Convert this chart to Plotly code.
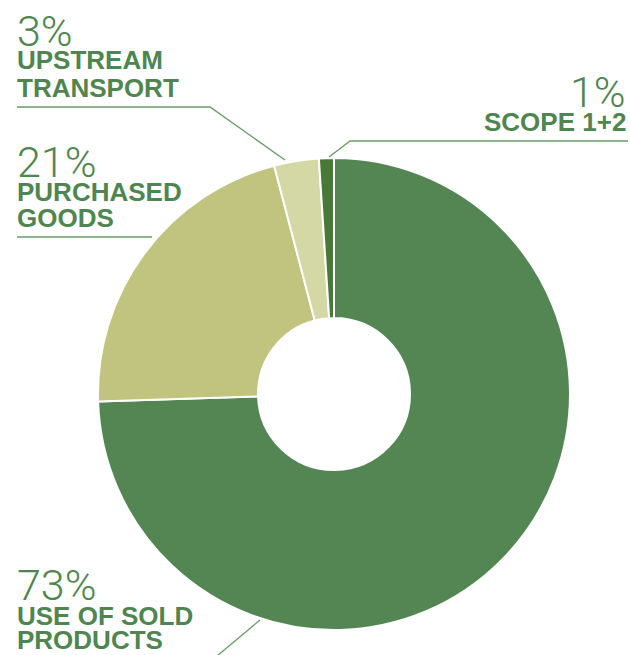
import plotly.graph_objects as go

# Emission breakdown by category
categories = [["USE OF SOLD", "PRODUCTS"], ["PURCHASED", "GOODS"], ["UPSTREAM", "TRANSPORT"], ["SCOPE 1+2"]]
shares = [73, 21, 3, 1]
slice_colors = ["#548654", "#c0c47e", "#d3d8a5", "#477a39"]

W, H = 630, 655
TEXT_GREEN = "#4f8550"
LINE_GREEN = "#6b9b67"


def px(x):
    return x / W


def py(y):
    return 1 - y / H


fig = go.Figure(
    go.Pie(
        values=shares,
        labels=[" ".join(c) for c in categories],
        sort=False,
        direction="clockwise",
        rotation=0,
        hole=0.322,
        marker=dict(colors=slice_colors, line=dict(color="white", width=2)),
        textinfo="none",
        hoverinfo="skip",
        showlegend=False,
        domain=dict(x=[px(98), px(570)], y=[py(630), py(158)]),
    )
)

# label blocks: (share index, x, top of percent box, tops of name lines, anchor)
blocks = [
    (2, 15, 4, [43, 71], "left"),
    (1, 15, 135, [175, 201], "left"),
    (3, 628, 65, [105], "right"),
    (0, 15, 558, [599, 623], "left"),
]

annotations = []
for idx, x, top, line_tops, anchor in blocks:
    annotations.append(dict(
        x=px(x), y=py(top), xref="paper", yref="paper",
        xanchor=anchor, yanchor="top", showarrow=False,
        text=f"{shares[idx]}%", align=anchor,
        font=dict(family="Roboto, Liberation Sans, sans-serif", size=43, color=TEXT_GREEN, weight=300),
    ))
    for line, lt in zip(categories[idx], line_tops):
        annotations.append(dict(
            x=px(x), y=py(lt), xref="paper", yref="paper",
            xanchor=anchor, yanchor="top", showarrow=False,
            text=f"<b>{line}</b>", align=anchor,
            font=dict(family="Liberation Sans, Arial, sans-serif", size=26, color=TEXT_GREEN),
        ))

# leader lines (polylines in pixel space)
leaders = [
    [(17, 107), (210, 107), (285, 160)],
    [(17, 237), (152, 237)],
    [(628, 141), (350, 141), (329, 157)],
    [(260, 620), (217, 656)],
]
shapes = []
for pts in leaders:
    path = "M " + " L ".join(f"{px(x):.5f},{py(y):.5f}" for x, y in pts)
    shapes.append(dict(type="path", path=path, xref="paper", yref="paper",
                       line=dict(color=LINE_GREEN, width=1.3)))

fig.update_layout(
    width=W, height=H,
    margin=dict(l=0, r=0, t=0, b=0),
    paper_bgcolor="white", plot_bgcolor="white",
    annotations=annotations, shapes=shapes,
)

fig.write_html("out.html")
